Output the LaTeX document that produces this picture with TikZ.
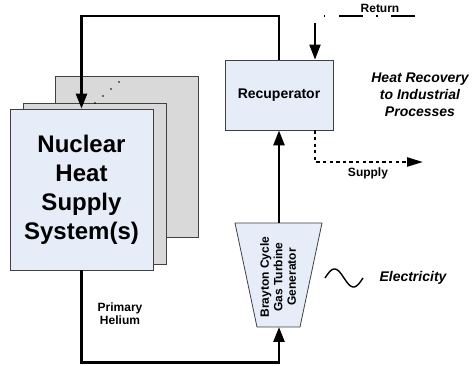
\documentclass[tikz,border=0pt]{standalone}
\usepackage{fontspec}
\setmainfont{Liberation Sans}
\usepackage{tikz}
\usetikzlibrary{arrows.meta,positioning,shapes.geometric,calc}
\definecolor{hxblue}{RGB}{230,236,248}
\definecolor{hxgray}{RGB}{217,217,217}
\definecolor{hxedge}{RGB}{64,64,64}
\newcommand\fsz[2]{\fontsize{#1}{#2}\selectfont}
\tikzset{
  unitbox/.style={draw=hxedge,line width=0.8pt,minimum width=143pt,minimum height=161pt,inner sep=0pt},
  loopline/.style={line width=2.5pt,-{Triangle[length=15pt,width=11pt]}},
  returnline/.style={line width=2pt,-{Triangle[length=15pt,width=11pt]}},
  supplyline/.style={line width=2.2pt,dash pattern=on 3.3pt off 3.3pt,-{Triangle[length=16pt,width=9pt]}},
}
\begin{document}
\begin{tikzpicture}[x=1pt,y=-1pt,font=\bfseries]
  \useasboundingbox (0,0) rectangle (475,366);
  \foreach \n/\x/\y in {back/126.5/157, mid/95/183.5}{
    \node[unitbox,fill=hxgray] (\n) at (\x,\y) {};
  }
  \foreach \d/\x/\y in {1/95/103, 2/103/96, 3/111/89, 4/119/82}{
    \fill (\x,\y) circle (0.9pt);
  }
  \node[unitbox,fill=hxblue,align=center,font=\bfseries\fsz{24}{29}] (nhss) at (81.5,189.5) {Nuclear\\Heat\\Supply\\System(s)};
  \node[draw=hxedge,line width=0.8pt,fill=hxblue,minimum width=108pt,minimum height=70pt,font=\bfseries\fsz{14}{17}] (recup) at (279,95) {Recuperator};
  \draw[draw=hxedge,line width=0.8pt,fill=hxblue] (235,223) -- (322,223) -- (300,327) -- (257,327) -- cycle;
  \coordinate (turbtop) at (279,223);
  \coordinate (turbbot) at (279,327);
  \node[rotate=90,align=center,font=\bfseries\fsz{12}{13.5}] (turbtext) at (278,277) {Brayton Cycle\\Gas Turbine\\Generator};

  \coordinate (looptop) at (279,16);
  \draw[loopline] (recup.north) -- (looptop) -| (nhss.north);
  \draw[loopline] (nhss.south) -- ++(0,92) -| (turbbot);
  \draw[loopline] (turbtop) -- (recup.south);

  \coordinate (retend) at (415,16);
  \coordinate (retstart) at (323,16);
  \coordinate (retdrop) at (315,23);
  \draw[line width=2pt,dash pattern=on 24pt off 13.5pt on 1.2pt off 13.5pt] (retend) -- (retstart);
  \draw[returnline] (retdrop) -- (retdrop |- recup.north);
  \coordinate (supend) at (423,162);
  \draw[supplyline] (retdrop |- recup.south) |- (supend);

  \node[font=\bfseries\fsz{12}{13.5}] (retlabel) at (380,8) {Return};
  \node[font=\bfseries\fsz{12}{13.5}] (suplabel) at (368,173) {Supply};
  \node[align=center,font=\bfseries\fsz{12}{13.5}] (helium) at (120,313.5) {Primary\\Helium};
  \node[align=center,font=\bfseries\itshape\fsz{14}{17}] (heatrec) at (420,95) {Heat Recovery\\to Industrial\\Processes};
  \draw[line width=1.4pt] plot[domain=0:360,samples=40,smooth] ({325+\x/360*38},{278-9*sin(\x)});
  \node[anchor=west,font=\bfseries\itshape\fsz{14}{17}] (elec) at (376,278) {Electricity};
\end{tikzpicture}
\end{document}
